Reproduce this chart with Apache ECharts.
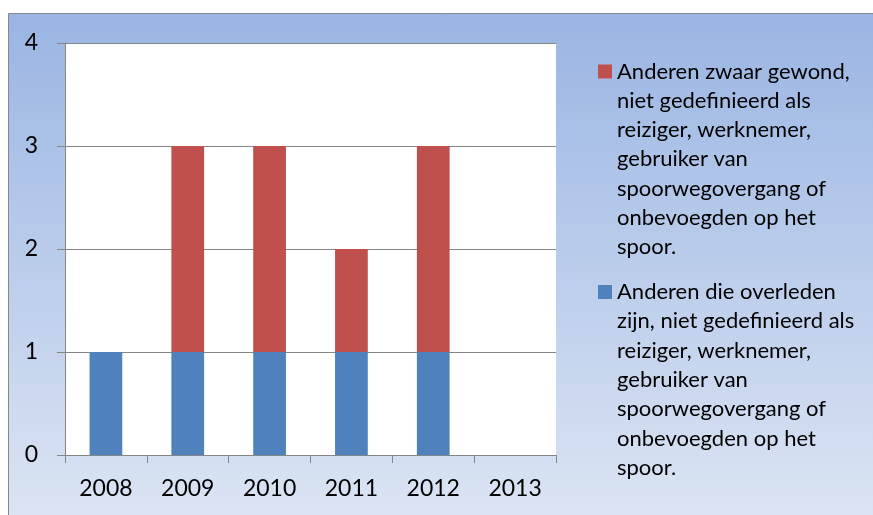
<!DOCTYPE html>
<html>
<head>
<meta charset="utf-8">
<script src="https://cdn.jsdelivr.net/npm/echarts@6/dist/echarts.min.js"></script>
<style>
  html, body { margin: 0; padding: 0; background: #ffffff; }
  #chart { width: 873px; height: 515px; }
</style>
</head>
<body>
<div id="chart"></div>
<script>
// Years on the category axis
const years = ['2008', '2009', '2010', '2011', '2012', '2013'];

// Series values per year
const deaths = [1, 1, 1, 1, 1, 0];          // Anderen die overleden zijn
const seriousInjuries = [0, 2, 2, 1, 2, 0]; // Anderen zwaar gewond

// Value axis ticks
const yTicks = [0, 1, 2, 3, 4];

// Series names and the wrapped legend text
const injuredName = 'Anderen zwaar gewond, niet gedefinieerd als reiziger, werknemer, gebruiker van spoorwegovergang of onbevoegden op het spoor.';
const deathName = 'Anderen die overleden zijn, niet gedefinieerd als reiziger, werknemer, gebruiker van spoorwegovergang of onbevoegden op het spoor.';
const legendLines = {};
legendLines[injuredName] = ['Anderen zwaar gewond,', 'niet gedefinieerd als', 'reiziger, werknemer,', 'gebruiker van', 'spoorwegovergang of', 'onbevoegden op het', 'spoor.'];
legendLines[deathName] = ['Anderen die overleden', 'zijn, niet gedefinieerd als', 'reiziger, werknemer,', 'gebruiker van', 'spoorwegovergang of', 'onbevoegden op het', 'spoor.'];

const FONT = 'Lato';
const LINE_H = 29.3;
const ITEM_H = LINE_H * 7;
const SQ = 14;
const sqTop = LINE_H / 2 - SQ / 2;
// square swatch next to the first text line; the two move-to points stretch the icon box to the full item height
const swatchPath = 'path://M0,' + sqTop + 'H' + SQ + 'V' + (sqTop + SQ) + 'H0Z M0,0L0,0 M0,' + ITEM_H + 'L0,' + ITEM_H;

const chart = echarts.init(document.getElementById('chart'), null, { renderer: 'canvas' });

chart.setOption({
  animation: false,
  backgroundColor: '#ffffff',
  graphic: [{
    type: 'rect',
    z: -10,
    silent: true,
    shape: { x: 8.5, y: 13.5, width: 900, height: 600 },
    style: {
      fill: new echarts.graphic.LinearGradient(0, 0, 0, 1, [
        { offset: 0, color: '#9ab5e3' },
        { offset: 0.85, color: '#dce5f3' },
        { offset: 1, color: '#e2e9f5' }
      ]),
      stroke: '#888888',
      lineWidth: 1
    }
  }],
  grid: {
    left: 65, top: 43, width: 491, height: 412,
    show: true, backgroundColor: '#ffffff', borderWidth: 0,
    containLabel: false
  },
  legend: {
    orient: 'vertical',
    left: 598,
    top: 71.5 - LINE_H / 2,
    padding: 0,
    itemGap: 15.5,
    itemWidth: SQ,
    itemHeight: ITEM_H,
    icon: swatchPath,
    selectedMode: false,
    data: [injuredName, deathName],
    formatter: function (name) { return legendLines[name].join('\n'); },
    textStyle: { fontFamily: FONT, fontSize: 22, lineHeight: LINE_H, color: '#000000', padding: [0, 0, 0, 0] }
  },
  xAxis: {
    type: 'category',
    data: years,
    boundaryGap: true,
    axisLine: { show: true, lineStyle: { color: '#868686', width: 1 } },
    axisTick: { show: true, length: 8, inside: false, alignWithLabel: false, lineStyle: { color: '#868686' } },
    axisLabel: { margin: 22, fontFamily: FONT, fontSize: 23, color: '#000000' },
    splitLine: { show: false }
  },
  yAxis: {
    type: 'value',
    min: yTicks[0],
    max: yTicks[yTicks.length - 1],
    interval: 1,
    axisLine: { show: true, lineStyle: { color: '#868686', width: 1 } },
    axisTick: { show: true, length: 8, lineStyle: { color: '#868686' } },
    axisLabel: { margin: 27, fontFamily: FONT, fontSize: 23, color: '#000000' },
    splitLine: { show: true, lineStyle: { color: '#868686', width: 1 } }
  },
  series: [
    {
      name: deathName,
      type: 'bar',
      stack: 'total',
      barCategoryGap: '60%',
      data: deaths,
      itemStyle: { color: '#4f81bd' }
    },
    {
      name: injuredName,
      type: 'bar',
      stack: 'total',
      barCategoryGap: '60%',
      data: seriousInjuries,
      itemStyle: { color: '#c0504d' }
    }
  ]
});
</script>
</body>
</html>
